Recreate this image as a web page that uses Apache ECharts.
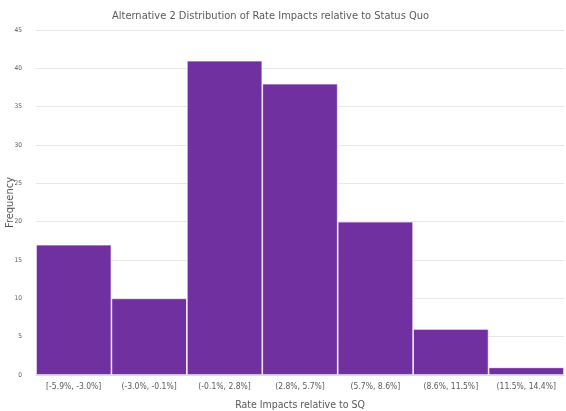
<!DOCTYPE html>
<html><head><meta charset="utf-8">
<script src="https://cdn.jsdelivr.net/npm/echarts@6/dist/echarts.min.js"></script>
<style>html,body{margin:0;padding:0;background:#fff}#c{width:566px;height:411px}</style>
</head><body><div id="c"></div>
<script>
const categories = ["[-5.9%, -3.0%]","(-3.0%, -0.1%]","(-0.1%, 2.8%]","(2.8%, 5.7%]","(5.7%, 8.6%]","(8.6%, 11.5%]","(11.5%, 14.4%]"];
const frequency = [17, 10, 41, 38, 20, 6, 1];
const yTicks = {min: 0, max: 45, interval: 5};

const FF = '"DejaVu Sans Condensed", "Roboto", sans-serif';
const chart = echarts.init(document.getElementById('c'));
chart.setOption({
  animation: false,
  title: {text: 'Alternative 2 Distribution of Rate Impacts relative to Status Quo', left: 107, top: 6,
    textStyle: {fontFamily: FF, fontSize: 11, fontWeight: 'normal', color: '#595959'}},
  grid: {left: 36, right: 2, top: 30, bottom: 36, containLabel: false, outerBoundsMode: 'none'},
  xAxis: {type: 'category', data: categories,
    name: 'Rate Impacts relative to SQ', nameLocation: 'middle', nameGap: 25, nameMoveOverlap: false,
    nameTextStyle: {fontFamily: FF, fontSize: 10.5, color: '#595959'},
    axisLine: {lineStyle: {color: '#d9d9d9'}}, axisTick: {show: false},
    axisLabel: {fontFamily: FF, fontSize: 8.5, color: '#595959', margin: 7, interval: 0}},
  yAxis: {type: 'value', min: yTicks.min, max: yTicks.max, interval: yTicks.interval,
    name: 'Frequency', nameLocation: 'middle', nameGap: 20, nameRotate: 90, nameMoveOverlap: false,
    nameTextStyle: {fontFamily: FF, fontSize: 11, color: '#595959'},
    axisLabel: {fontFamily: FF, fontSize: 6.5, color: '#595959', margin: 14},
    splitLine: {lineStyle: {color: '#e6e6e6'}}},
  series: [{type: 'bar', data: frequency, barCategoryGap: 0,
    itemStyle: {color: '#7030A0', borderColor: '#ffffff', borderWidth: 0.7}}]
});
</script></body></html>
